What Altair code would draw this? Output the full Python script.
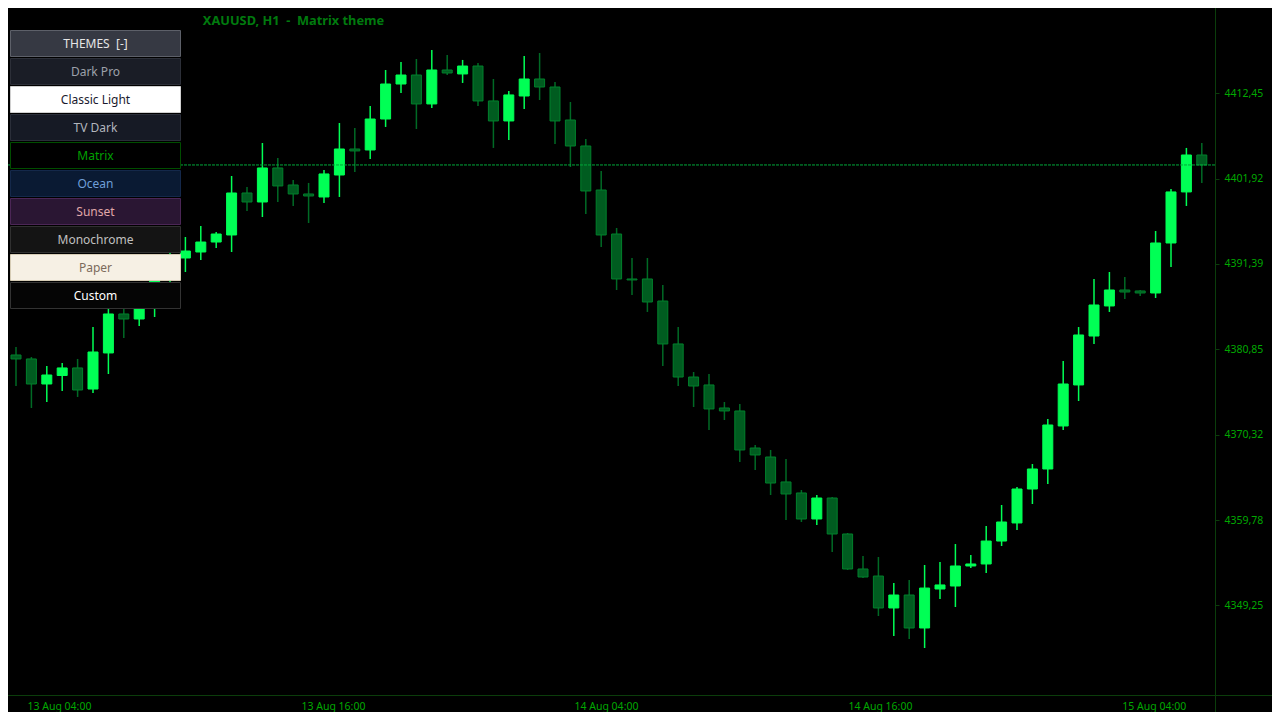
import altair as alt
import pandas as pd
import numpy as np

# ---------------- data (XAUUSD, H1) ----------------
opens = [4380.15, 4379.66, 4376.57, 4377.62, 4378.55, 4375.95, 4380.40, 4385.21, 4384.59, 4385.90,
         4390.64, 4392.12, 4392.86, 4394.09, 4394.96, 4400.14, 4399.03, 4403.23, 4401.13, 4400.02,
         4399.65, 4402.36, 4405.57, 4405.45, 4409.27, 4413.59, 4414.70, 4411.13, 4415.32, 4414.83,
         4415.81, 4411.50, 4409.03, 4412.11, 4414.21, 4413.22, 4409.15, 4405.94, 4400.51, 4395.08,
         4389.53, 4389.53, 4386.81, 4381.51, 4377.43, 4376.45, 4373.61, 4373.24, 4368.67, 4367.56,
         4364.48, 4363.12, 4359.91, 4362.50, 4358.06, 4353.74, 4352.87, 4348.93, 4350.53, 4346.46,
         4351.27, 4351.64, 4354.11, 4354.36, 4357.19, 4359.42, 4363.61, 4366.08, 4371.39, 4376.45,
         4382.49, 4386.20, 4388.17, 4388.05, 4387.80, 4393.97, 4400.27, 4404.83]
highs = [4381.14, 4379.90, 4378.79, 4379.16, 4379.66, 4383.60, 4385.83, 4386.20, 4386.94, 4391.63,
         4393.23, 4394.71, 4396.07, 4395.33, 4402.24, 4400.88, 4406.31, 4404.46, 4401.75, 4401.38,
         4402.98, 4408.78, 4408.16, 4410.88, 4415.32, 4416.31, 4416.68, 4417.79, 4417.17, 4416.56,
         4416.19, 4414.21, 4412.73, 4417.05, 4417.42, 4413.84, 4411.37, 4406.81, 4402.86, 4395.82,
         4392.12, 4392.12, 4388.79, 4383.60, 4378.05, 4377.80, 4374.35, 4374.10, 4369.04, 4368.43,
         4367.31, 4363.49, 4362.87, 4362.62, 4358.18, 4355.34, 4355.22, 4352.01, 4352.38, 4354.23,
         4354.60, 4356.82, 4355.47, 4359.05, 4361.64, 4363.86, 4366.70, 4372.25, 4379.41, 4383.60,
         4389.53, 4390.39, 4389.78, 4388.17, 4395.45, 4400.64, 4405.70, 4406.31]
lows = [4376.32, 4373.61, 4374.35, 4375.71, 4374.97, 4375.46, 4377.80, 4382.25, 4383.73, 4384.84,
        4389.16, 4390.39, 4391.87, 4393.35, 4392.86, 4397.92, 4397.18, 4399.03, 4398.54, 4396.44,
        4398.91, 4399.65, 4402.73, 4404.34, 4408.29, 4412.48, 4408.04, 4410.63, 4414.70, 4413.72,
        4410.88, 4405.70, 4406.68, 4410.51, 4411.62, 4406.19, 4403.35, 4397.55, 4393.48, 4388.17,
        4387.55, 4385.46, 4378.79, 4376.32, 4373.73, 4370.89, 4372.13, 4366.94, 4365.96, 4362.87,
        4359.79, 4359.54, 4359.17, 4355.84, 4353.62, 4352.63, 4347.94, 4345.47, 4345.10, 4343.99,
        4350.04, 4349.05, 4353.86, 4353.25, 4356.58, 4358.55, 4361.76, 4364.23, 4370.89, 4374.47,
        4381.51, 4385.46, 4387.06, 4387.43, 4387.18, 4391.01, 4398.54, 4401.38]
closes = [4379.66, 4376.57, 4377.68, 4378.55, 4375.83, 4380.52, 4385.21, 4384.59, 4385.83, 4390.64,
          4392.12, 4392.98, 4394.09, 4395.08, 4400.14, 4399.03, 4403.23, 4401.01, 4400.02, 4399.77,
          4402.49, 4405.57, 4405.33, 4409.27, 4413.59, 4414.70, 4411.13, 4415.32, 4414.95, 4415.81,
          4411.50, 4409.03, 4412.24, 4414.21, 4413.22, 4409.03, 4405.94, 4400.39, 4394.96, 4389.53,
          4389.41, 4386.69, 4381.51, 4377.43, 4376.32, 4373.49, 4373.24, 4368.43, 4367.81, 4364.35,
          4363.00, 4359.91, 4362.50, 4358.06, 4353.74, 4352.75, 4348.93, 4350.53, 4346.46, 4351.39,
          4351.77, 4354.11, 4354.36, 4357.19, 4359.54, 4363.61, 4366.08, 4371.51, 4376.57, 4382.62,
          4386.32, 4388.17, 4387.92, 4387.80, 4393.97, 4400.27, 4404.83, 4403.60]
last_price = 4403.60

price_ticks = [4349.25, 4359.78, 4370.32, 4380.85, 4391.39, 4401.92, 4412.45]
time_tick_pos = [2.79, 20.58, 38.31, 56.10, 73.88]
time_tick_labels = ["13 Aug 04:00", "13 Aug 16:00", "14 Aug 04:00", "14 Aug 16:00", "15 Aug 04:00"]

NB = "\u00a0"
title_text = f"XAUUSD, H1{NB}{NB}-{NB}{NB}Matrix theme"
menu_header = f"THEMES{NB}{NB}[-]"
theme_names = ["Dark Pro", "Classic Light", "TV Dark", "Matrix", "Ocean",
               "Sunset", "Monochrome", "Paper", "Custom"]

# ---------------- styles ----------------
theme_fill = ["#1a1d26", "#ffffff", "#161a25", "#000000", "#0a1a33",
              "#2a1633", "#141414", "#f6f0e4", "#050505"]
theme_stroke = ["#2c2f38", "#d0d0d0", "#2a2e39", "#004d00", "#14284a",
                "#4b2656", "#303030", "#d6ccb5", "#333333"]
theme_text = ["#9da1aa", "#1a1a2e", "#b2b5be", "#00a000", "#6f9fd8",
              "#e0a8a8", "#c0c0c0", "#7b6a5b", "#ffffff"]

UP = "#00ff55"
DOWN_FILL = "#005c20"
DOWN_EDGE = "#00802c"
DOWN_WICK = "#006a25"
AXIS_TXT = "#00a800"
SEP = "#0b3d0b"
FONT = "Noto Sans"

W, H = 1207, 687
PAD_R, PAD_B = 57, 17

df = pd.DataFrame({"i": np.arange(len(opens)), "open": opens, "high": highs,
                   "low": lows, "close": closes})
df["dir"] = np.where(df["close"] >= df["open"], "up", "down")
df["body_lo"] = df[["open", "close"]].min(axis=1)
df["body_hi"] = df[["open", "close"]].max(axis=1)

xs = alt.Scale(domain=[-0.5195, 77.857], nice=False, zero=False, padding=0)
ys = alt.Scale(domain=[4338.19, 4422.97], nice=False, zero=False, padding=0)

mids = [(a + b) / 2 for a, b in zip(time_tick_pos[:-1], time_tick_pos[1:])]
x_expr = "".join(f"datum.value < {m} ? '{l}' : " for m, l in zip(mids, time_tick_labels[:-1]))
x_expr += f"'{time_tick_labels[-1]}'"

xaxis = alt.Axis(values=time_tick_pos, labelExpr=x_expr, ticks=False, tickSize=0,
                 domain=False, grid=False, labelColor=AXIS_TXT, labelFont=FONT,
                 labelFontSize=10.5, labelPadding=6, title=None, labelFlush=False,
                 labelOverlap=False)
yaxis = alt.Axis(orient="right", values=price_ticks,
                 labelExpr="replace(format(datum.value, '.2f'), '.', ',')",
                 tickSize=4, tickColor=SEP, domain=False, grid=False,
                 labelColor=AXIS_TXT, labelFont=FONT, labelFontSize=10.5,
                 labelPadding=5, title=None, labelOverlap=False, labelFlush=False)

base = alt.Chart(df)
X = alt.X("i:Q", scale=xs, axis=xaxis)

wicks = base.mark_rule(strokeWidth=1.5).encode(
    x=X,
    y=alt.Y("low:Q", scale=ys, axis=yaxis),
    y2="high:Q",
    color=alt.Color("dir:N", scale=alt.Scale(domain=["up", "down"], range=[UP, DOWN_WICK]), legend=None),
)
bodies = base.mark_bar(size=10, strokeWidth=1).encode(
    x=X,
    y=alt.Y("body_lo:Q", scale=ys, axis=yaxis),
    y2="body_hi:Q",
    fill=alt.Fill("dir:N", scale=alt.Scale(domain=["up", "down"], range=[UP, DOWN_FILL]), legend=None),
    stroke=alt.Stroke("dir:N", scale=alt.Scale(domain=["up", "down"], range=[UP, DOWN_EDGE]), legend=None),
)

price_line = alt.Chart(pd.DataFrame({"p": [last_price]})).mark_rule(
    color="#00a83a", strokeDash=[3, 1], strokeWidth=1
).encode(y=alt.Y("p:Q", scale=ys, axis=yaxis), x=alt.value(0), x2=alt.value(W))

one = pd.DataFrame({"k": [0]})
vsep = alt.Chart(one).mark_rule(color=SEP, strokeWidth=1).encode(
    x=alt.value(W + 0.5), y=alt.value(0), y2=alt.value(H + PAD_B))
hsep = alt.Chart(one).mark_rule(color=SEP, strokeWidth=1).encode(
    y=alt.value(H + 0.5), x=alt.value(0), x2=alt.value(W + PAD_R))

title = alt.Chart(pd.DataFrame({"t": [title_text]})).mark_text(
    font=FONT, fontSize=12.8, fontWeight="bold", color="#007a0e",
    align="center", baseline="middle"
).encode(text="t:N", x=alt.value(285.5), y=alt.value(13))

# ---------------- theme menu ----------------
menu = alt.Chart(pd.DataFrame({"name": theme_names})).transform_window(
    row="row_number()"
).transform_calculate(
    y0="22.5 + 28 * datum.row", y1="22.5 + 28 * datum.row + 26", yc="22.5 + 28 * datum.row + 13"
)
menu_rect = menu.mark_rect(strokeWidth=1).encode(
    x=alt.value(2.5), x2=alt.value(172.5),
    y=alt.Y("y0:Q", scale=None, axis=None), y2="y1:Q",
    fill=alt.Fill("name:N", scale=alt.Scale(domain=theme_names, range=theme_fill), legend=None),
    stroke=alt.Stroke("name:N", scale=alt.Scale(domain=theme_names, range=theme_stroke), legend=None),
)
menu_text = menu.mark_text(font=FONT, fontSize=12, align="center", baseline="middle").encode(
    x=alt.value(87.5),
    y=alt.Y("yc:Q", scale=None, axis=None),
    text="name:N",
    color=alt.Color("name:N", scale=alt.Scale(domain=theme_names, range=theme_text), legend=None),
)
hdr = alt.Chart(pd.DataFrame({"t": [menu_header]}))
hdr_rect = hdr.mark_rect(fill="#363943", stroke="#5d6069", strokeWidth=1).encode(
    x=alt.value(2.5), x2=alt.value(172.5), y=alt.value(22.5), y2=alt.value(48.5))
hdr_text = hdr.mark_text(font=FONT, fontSize=12, color="#e6e6e6", align="center",
                         baseline="middle").encode(text="t:N", x=alt.value(87.5), y=alt.value(35.5))

chart = alt.layer(
    wicks, bodies, price_line, vsep, hsep, title,
    menu_rect, menu_text, hdr_rect, hdr_text
).resolve_scale(
    fill="independent", stroke="independent", color="independent"
).properties(
    width=W, height=H, background="#000000",
    padding={"left": 0, "top": 0, "right": PAD_R, "bottom": PAD_B},
    autosize=alt.AutoSizeParams(type="none"),
).configure_view(stroke=None)

chart.save("out.html", embed_options={"renderer": "svg", "actions": False})
